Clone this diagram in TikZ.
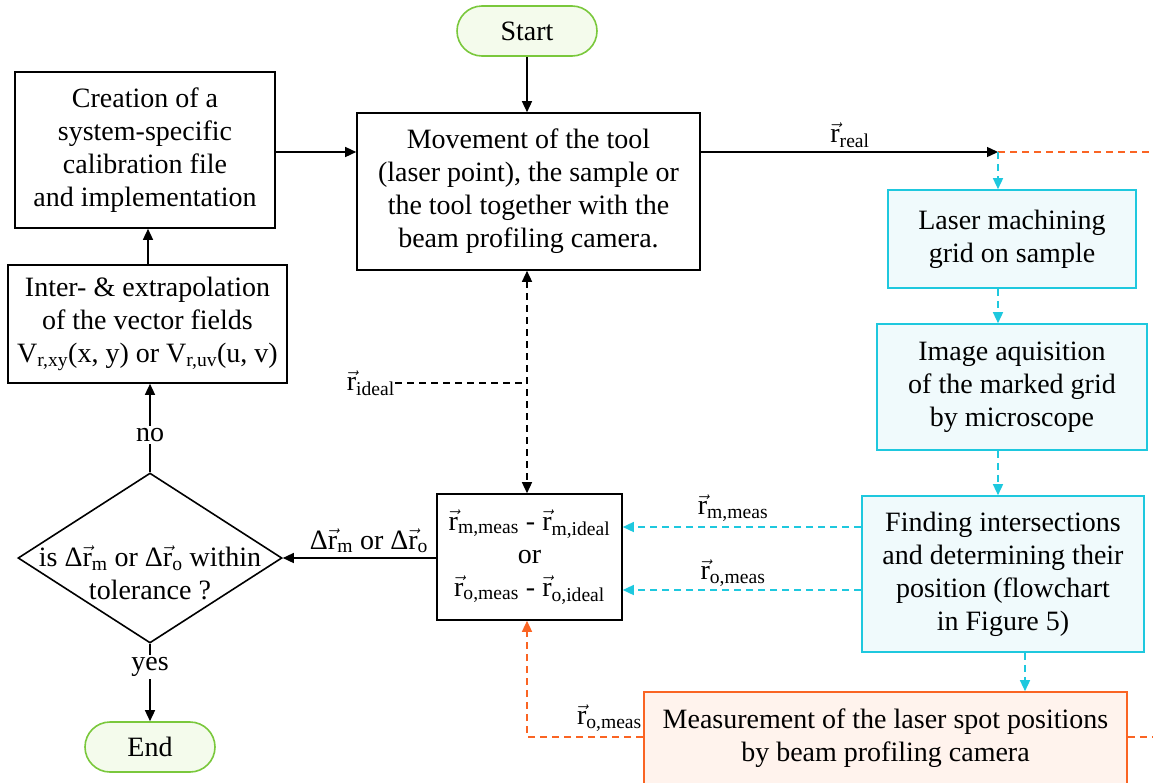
\documentclass[tikz,border=0pt]{standalone}
\usepackage{fontspec}
\setmainfont{Liberation Serif}
\usetikzlibrary{arrows.meta,shapes.geometric,calc}
\definecolor{grn}{RGB}{122,200,60}
\definecolor{grnfill}{RGB}{244,251,236}
\definecolor{cyn}{RGB}{30,200,222}
\definecolor{cynfill}{RGB}{240,250,252}
\definecolor{org}{RGB}{250,100,35}
\definecolor{orgfill}{RGB}{255,243,237}
\newcommand{\fs}{\fontsize{28}{33}\selectfont}
\newcommand{\rv}[1]{$\vec{\mbox{r}}$\textsubscript{#1}}
\begin{document}
\begin{tikzpicture}[x=1pt,y=-1pt,
  every node/.style={font=\fs, align=center, inner sep=0pt},
  box/.style={draw=black, line width=1.6pt},
  term/.style={draw=grn, fill=grnfill, line width=1.6pt, rounded corners=25pt},
  cbox/.style={draw=cyn, fill=cynfill, line width=1.6pt},
  obox/.style={draw=org, fill=orgfill, line width=1.6pt},
  arr/.style={-{Triangle[length=11pt,width=10pt]}, line width=1.4pt},
  dsh/.style={dash pattern=on 7pt off 5pt},
  lbl/.style={fill=white, inner sep=2pt}]
\useasboundingbox (0,0) rectangle (1153,782);

% process boxes
\node[term, minimum width=140pt, minimum height=50pt] (start) at (527,31) {Start};
\node[box, minimum width=343pt, minimum height=157pt] (move) at (528.5,191.5)
  {Movement of the tool\\(laser point), the sample or\\the tool together with the\\beam profiling camera.};
\node[box, minimum width=260pt, minimum height=156pt] (create) at (145,150)
  {Creation of a\\system-specific\\calibration file\\and implementation};
\node[box, minimum width=279pt, minimum height=118pt] (inter) at (147.5,324)
  {Inter- \& extrapolation\\of the vector fields\\V\textsubscript{r,xy}(x, y) or V\textsubscript{r,uv}(u, v)};
\node[draw, line width=1.6pt, diamond, minimum width=264pt, minimum height=170pt] (dec) at (150,558) {};
\node (dectext) at (150,573) {is Δ\rv{m} or Δ\rv{o} within\\tolerance ?};
\node[term, minimum width=130pt, minimum height=50pt] (end) at (150,747) {End};
\node[box, minimum width=185pt, minimum height=126pt] (diff) at (529.5,557)
  {\rv{m,meas} - \rv{m,ideal}\\or\\\rv{o,meas} - \rv{o,ideal}};
\node[cbox, minimum width=248pt, minimum height=98pt] (laser) at (1012,239)
  {Laser machining\\grid on sample};
\node[cbox, minimum width=270pt, minimum height=126pt] (image) at (1012,387)
  {Image aquisition\\of the marked grid\\by microscope};
\node[cbox, minimum width=282pt, minimum height=156pt] (find) at (1003,574)
  {Finding intersections\\and determining their\\position (flowchart\\in Figure 5)};
\node[obox, minimum width=483pt, minimum height=100pt] (meas) at (885.5,742) {};
\node (meastext) at (885.5,738)
  {Measurement of the laser spot positions\\by beam profiling camera};

% junction points
\coordinate (real) at (998,152);
\coordinate (ideal) at (395,383);
\coordinate (oturn) at (527,737);
\coordinate (rightA) at (1153,152);
\coordinate (rightB) at (1153,737);

% main flow
\draw[arr] (start) -- (start |- move.north);
\draw[arr] (create.east |- 0,152) -- (move.west |- 0,152);
\draw[arr] (inter.north -| 148,0) -- (create.south -| 148,0);
\draw[arr] (dec.north) -- node[lbl, pos=0.42] {no} (inter.south -| dec.north);
\draw[arr] (dec.south) -- node[lbl, pos=0.3] {yes} (end.north);
\draw[arr] (diff.west |- dec.east) -- (dec.east);
\node at (369,541) {Δ\rv{m} or Δ\rv{o}};
\draw[arr] (move.east |- real) -- (real);
\node at (850,135) {\rv{real}};

% ideal positions
\draw[arr, dsh, {Triangle[length=11pt,width=10pt]}-{Triangle[length=11pt,width=10pt]}]
  (move.south -| 527,0) -- (diff.north -| 527,0);
\draw[dsh, line width=1.4pt] (ideal) -- (527,383);
\node[anchor=east] at (ideal) {\rv{ideal}};

% microscope branch
\draw[org, dsh, line width=1.4pt] (real) -- (rightA);
\draw[arr, cyn, dsh] (real) -- (laser.north -| real);
\draw[arr, cyn, dsh] (laser.south -| real) -- (image.north -| real);
\draw[arr, cyn, dsh] (image.south -| real) -- (find.north -| real);
\draw[arr, cyn, dsh] (find.south -| 1025,0) -- (meas.north -| 1025,0);
\draw[arr, cyn, dsh] (find.west |- 0,527) -- (diff.east |- 0,527);
\draw[arr, cyn, dsh] (find.west |- 0,590) -- (diff.east |- 0,590);
\node at (733,508) {\rv{m,meas}};
\node at (733,573) {\rv{o,meas}};

% camera branch
\draw[arr, org, dsh] (meas.west |- oturn) -- (oturn) -- (diff.south -| oturn);
\draw[org, dsh, line width=1.4pt] (meas.east |- rightB) -- (rightB);
\node[anchor=east] at (642,718) {\rv{o,meas}};
\end{tikzpicture}
\end{document}
